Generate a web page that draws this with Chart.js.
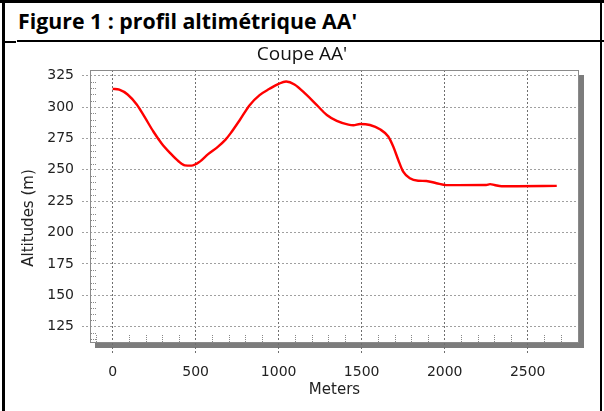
<!DOCTYPE html>
<html><head><meta charset="utf-8">
<script src="https://cdn.jsdelivr.net/npm/chart.js@4.4.1/dist/chart.umd.min.js"></script>
<style>
html,body{margin:0;padding:0;background:#fff;}
#wrap{position:relative;width:604px;height:411px;overflow:hidden;}
.ln{position:absolute;background:#000;}
#fig{position:absolute;left:18px;top:6px;font:bold 21.3px "Open Sans";color:#000;white-space:nowrap;line-height:30px;}
canvas{position:absolute;left:0;top:0;}
</style></head>
<body><div id="wrap">
<div class="ln" style="left:0;top:0;width:604px;height:3px"></div>
<div class="ln" style="left:2px;top:0;width:3px;height:411px"></div>
<div class="ln" style="left:600px;top:0;width:2px;height:411px"></div>
<div class="ln" style="left:17px;top:40px;width:587px;height:2px"></div>
<div class="ln" style="left:5px;top:41px;width:11px;height:2px"></div>
<div id="fig">Figure 1 : profil altimétrique AA'</div>
<canvas id="c" width="604" height="411"></canvas>
</div>
<script>
const chartTitle = "Coupe AA'";
const xTitle = "Meters";
const yTitle = "Altitudes (m)";
const distances = [0,40,90,145,195,245,295,345,395,435,475,525,575,635,680,710,765,825,885,945,1000,1045,1095,1165,1230,1290,1350,1420,1450,1490,1550,1610,1660,1690,1720,1750,1790,1840,1890,1950,2010,2080,2250,2273,2300,2343,2434,2675];
const altitudes = [314.5,313.8,310,302,291.5,280.5,271,263.5,257,253.5,253.3,256.5,262.5,268.5,274,279,289.5,301.5,309.5,314.5,318.5,320.3,318,310,301.5,293.7,289,286,285.5,286.5,285.7,282.3,276.5,268.5,258,248.5,243.2,241.3,241.1,239.3,237.8,237.8,237.9,238.6,237.9,236.9,236.9,237.2];
const xTicks = [0,500,1000,1500,2000,2500];
const yTicks = [125,150,175,200,225,250,275,300,325];

const points = distances.map((d,i)=>({x:d,y:altitudes[i]}));

const framePlugin = {
  id:'frame',
  beforeDraw(chart){
    const ctx = chart.ctx, a = chart.chartArea;
    ctx.save();
    ctx.fillStyle = '#7c7c7c';
    ctx.fillRect(a.left+5, a.top+5, a.right-a.left, a.bottom-a.top);
    ctx.fillStyle = '#ffffff';
    ctx.fillRect(a.left, a.top, a.right-a.left, a.bottom-a.top);
    ctx.restore();
  },
  beforeDatasetsDraw(chart){
    const ctx = chart.ctx, a = chart.chartArea;
    const xs = chart.scales.x, ys = chart.scales.y;
    ctx.save();
    ctx.lineWidth = 1;
    ctx.strokeStyle = '#888';
    ctx.setLineDash([1,1]);
    for(let v=Math.ceil(ys.min/5)*5; v<=ys.max; v+=5){
      if(v%25===0) continue;
      const y = Math.round(ys.getPixelForValue(v))+0.5;
      ctx.beginPath(); ctx.moveTo(a.left+1,y); ctx.lineTo(a.left+7,y); ctx.stroke();
    }
    for(let m=Math.ceil(xs.min/100)*100; m<=xs.max; m+=100){
      if(m%500===0) continue;
      const x = Math.round(xs.getPixelForValue(m))+0.5;
      ctx.beginPath(); ctx.moveTo(x,a.bottom-8); ctx.lineTo(x,a.bottom); ctx.stroke();
    }
    ctx.setLineDash([]);
    ctx.strokeStyle = '#8a8a8a';
    ctx.strokeRect(a.left+0.5, a.top+0.5, a.right-a.left-1, a.bottom-a.top-1);
    ctx.restore();
  },
  afterDraw(chart){
    const ctx = chart.ctx, a = chart.chartArea;
    ctx.save();
    ctx.fillStyle = '#111';
    ctx.textAlign = 'center';
    ctx.textBaseline = 'middle';
    ctx.font = '19px "Open Sans"';
    ctx.fillText(chartTitle, chart.width/2, 55);
    ctx.translate(29, (a.top+a.bottom)/2 + 11.5);
    ctx.rotate(-Math.PI/2);
    ctx.font = '15px "DejaVu Sans"';
    ctx.fillStyle = '#222';
    ctx.fillText(yTitle, 0, 0);
    ctx.restore();
  }
};

const plain = v => String(v);

new Chart(document.getElementById('c'), {
  type:'line',
  data:{datasets:[{
    data:points,
    borderColor:'#ff0000',
    borderWidth:2.4,
    pointRadius:0,
    tension:0.4,
    cubicInterpolationMode:'monotone',
    fill:false
  }]},
  options:{
    responsive:false,
    animation:false,
    devicePixelRatio:1,
    layout:{padding:{left:0,right:25,top:70,bottom:8}},
    plugins:{
      legend:{display:false},
      tooltip:{enabled:false},
      title:{display:false}
    },
    scales:{
      x:{type:'linear',min:-136.5,max:2809,
        afterBuildTicks(s){ s.ticks = xTicks.map(v=>({value:v})); },
        afterFit(s){ s.height = 60; },
        border:{display:false,dash:[2,2]},
        grid:{color:'#6e6e6e',tickBorderDash:[2,2],tickLength:12,lineWidth:1},
        ticks:{padding:9,color:'#222',font:{family:'"DejaVu Sans"',size:14},maxRotation:0,autoSkip:false,callback:plain},
        title:{display:true,text:xTitle,color:'#222',font:{family:'"DejaVu Sans"',size:15,lineHeight:1.2},padding:{top:0,bottom:4}}
      },
      y:{type:'linear',min:112,max:329.5,
        afterBuildTicks(s){ s.ticks = yTicks.map(v=>({value:v})); },
        afterFit(s){ s.width = 90; },
        border:{display:false,dash:[2,2]},
        grid:{color:'#a0a0a0',tickBorderDash:[2,2],tickLength:8,lineWidth:1},
        ticks:{padding:8,color:'#222',font:{family:'"DejaVu Sans"',size:14},autoSkip:false,callback:plain}
      }
    }
  },
  plugins:[framePlugin]
});
</script>
</body></html>
